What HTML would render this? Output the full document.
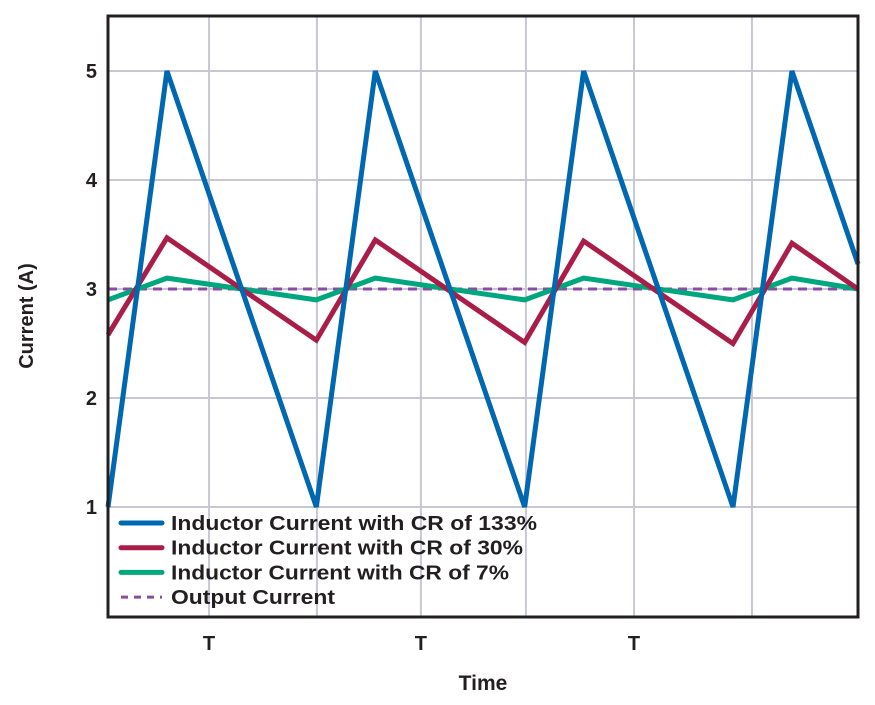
<!DOCTYPE html>
<html><head><meta charset="utf-8"><style>
body{margin:0;background:#fff}
svg{display:block;font-family:"Liberation Sans",sans-serif;font-weight:bold;fill:#231f20}
</style></head><body>
<svg id="c" width="875" height="705" viewBox="0 0 875 705">
<g id="grid"></g>
<g id="series"></g>
<rect x="108" y="16" width="750" height="601" fill="none" stroke="#231f20" stroke-width="3"/>
<g id="yt"></g>
<g id="xt"></g>
<text x="33" y="316" font-size="20" text-anchor="middle" transform="rotate(-90 33 316)">Current (A)</text>
<text x="483" y="690" font-size="21" text-anchor="middle">Time</text>
<g id="legend"></g>
</svg>
<script>
const yTicks=[1,2,3,4,5];
const yGrid=[1,2,3,4,5];
const xGrid=[0.485,1.003,1.502,2.006,2.525,3.091];
const xTickPos=[0.485,1.502,2.525];
const xTickLabels=["T","T","T"];
const t133=[0,0.283,1,1.283,2,2.283,3,3.283,3.6];
const v133=[1,5,1,5,1,5,1,5,3.23];
const t30=[0,0.283,1,1.283,2,2.283,3,3.283,3.6];
const v30=[2.58,3.47,2.53,3.45,2.51,3.44,2.5,3.42,3.0];
const t7=[0,0.283,1,1.283,2,2.283,3,3.283,3.6];
const v7=[2.9,3.1,2.9,3.1,2.9,3.1,2.9,3.1,3.0];
const tOut=[0,3.6];
const vOut=[3,3];
const legendLabels=["Inductor Current with CR of 133%","Inductor Current with CR of 30%","Inductor Current with CR of 7%","Output Current"];

const NS="http://www.w3.org/2000/svg";
const X=t=>108+t*208.33;
const Y=v=>616-v*109;
function mk(tag,attrs,parent){const e=document.createElementNS(NS,tag);for(const k in attrs)e.setAttribute(k,attrs[k]);parent.appendChild(e);return e;}
const grid=document.getElementById('grid');
yGrid.forEach(v=>{const l=mk('line',{x1:108,x2:858,y1:Y(v),y2:Y(v),stroke:'#c8c8d4','stroke-width':2},grid);

});
xGrid.forEach(t=>{const l=mk('line',{x1:X(t),x2:X(t),y1:16,y2:617,stroke:'#c8c8d4','stroke-width':2},grid);

});
const yt=document.getElementById('yt');
yTicks.forEach(v=>{const e=mk('text',{x:97,y:Y(v)+7,'font-size':20,'text-anchor':'end'},yt);e.textContent=v;

});
const xt=document.getElementById('xt');
xTickPos.forEach((t,i)=>{const e=mk('text',{x:X(t),y:650,'font-size':20,'text-anchor':'middle'},xt);e.textContent=xTickLabels[i];

});
const ser=document.getElementById('series');
function line(ts,vs,color,dash,name){const p=mk('polyline',{points:ts.map((t,i)=>X(t)+','+Y(vs[i])).join(' '),fill:'none',stroke:color,'stroke-width':dash?3:5,'stroke-linejoin':'miter','stroke-dasharray':dash||'none'},ser);

}
line(tOut,vOut,'#8a4ca0','9,6','output-current-line');
line(t7,v7,'#00a77e',null,'cr7-line');
line(t30,v30,'#a91d48',null,'cr30-line');
line(t133,v133,'#0067b1',null,'cr133-line');
const lg=document.getElementById('legend');
const cols=['#0067b1','#a91d48','#00a77e','#8a4ca0'];
const lens=[366,352,338,164];
legendLabels.forEach((s,i)=>{const y=523+i*24.7;
const l=mk('line',{x1:121,x2:162,y1:y,y2:y,stroke:cols[i],'stroke-width':i==3?3:5,'stroke-linecap':i==3?'butt':'round','stroke-dasharray':i==3?'7,6':'none'},lg);


const t=mk('text',{x:171,y:y+7,'font-size':20,textLength:lens[i],lengthAdjust:'spacingAndGlyphs'},lg);t.textContent=s;

});
</script>
</body></html>
